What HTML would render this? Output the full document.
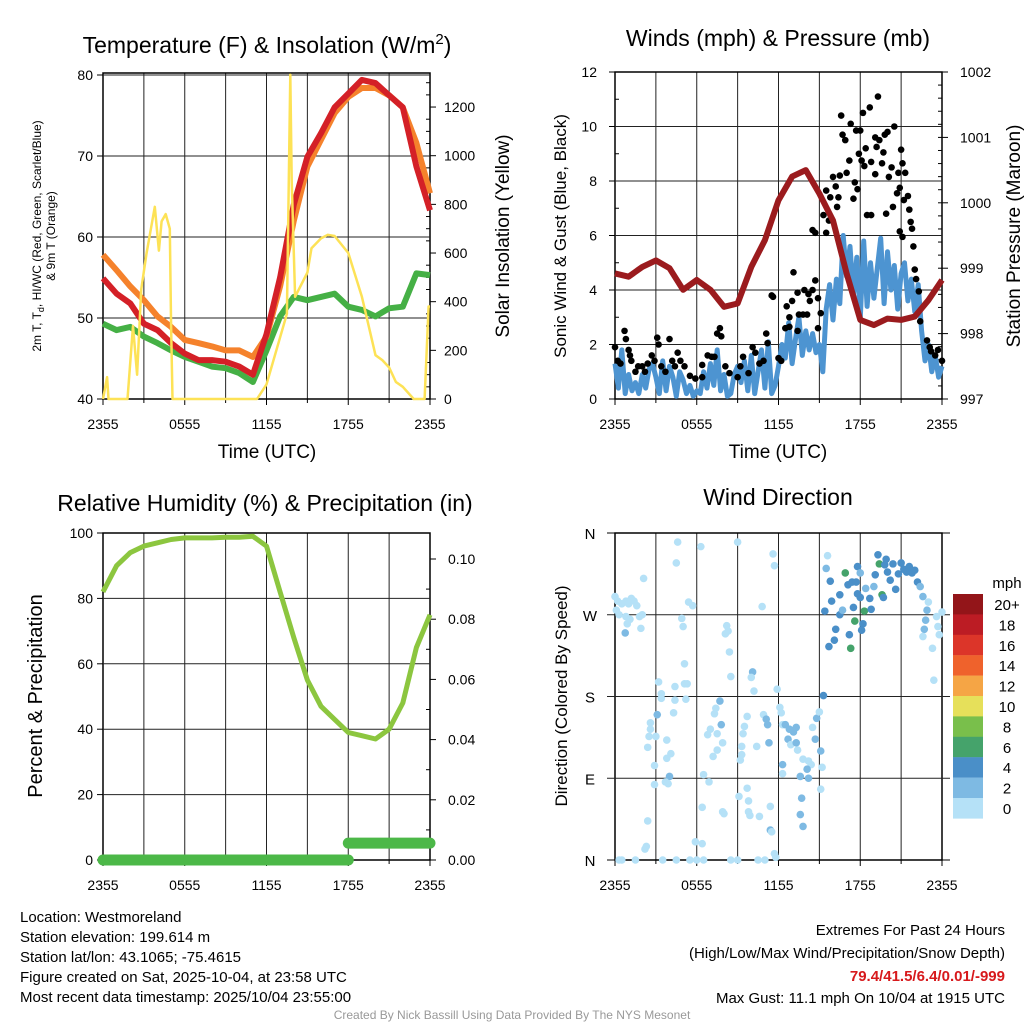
<!DOCTYPE html>
<html><head><meta charset="utf-8"><style>
body{margin:0;background:#fff;}
svg{display:block;font-family:"Liberation Sans",Arial,sans-serif;}
</style></head><body>
<svg id="c" width="1024" height="1024" viewBox="0 0 1024 1024" xmlns="http://www.w3.org/2000/svg">
<g id="txt">
<text x="267" y="53" font-size="23" text-anchor="middle">Temperature (F) &amp; Insolation (W/m<tspan dy="-9" font-size="15">2</tspan><tspan dy="9">)</tspan></text>
<text x="778" y="46" font-size="23" text-anchor="middle">Winds (mph) &amp; Pressure (mb)</text>
<text x="265" y="511" font-size="23" text-anchor="middle">Relative Humidity (%) &amp; Precipitation (in)</text>
<text x="778" y="505" font-size="23" text-anchor="middle">Wind Direction</text>
<text x="267" y="458" font-size="19" text-anchor="middle">Time (UTC)</text>
<text x="778" y="458" font-size="19" text-anchor="middle">Time (UTC)</text>
<text transform="translate(41,236) rotate(-90)" font-size="12" text-anchor="middle">2m T, T<tspan dy="3" font-size="9">d</tspan><tspan dy="-3">, HI/WC (Red, Green, Scarlet/Blue)</tspan></text>
<text transform="translate(55,236) rotate(-90)" font-size="12" text-anchor="middle">&amp; 9m T (Orange)</text>
<text transform="translate(509,236) rotate(-90)" font-size="19" text-anchor="middle">Solar Insolation (Yellow)</text>
<text transform="translate(566,236) rotate(-90)" font-size="17" text-anchor="middle">Sonic Wind &amp; Gust (Blue, Black)</text>
<text transform="translate(1020,236) rotate(-90)" font-size="19" text-anchor="middle">Station Pressure (Maroon)</text>
<text transform="translate(42,696) rotate(-90)" font-size="20" text-anchor="middle">Percent &amp; Precipitation</text>
<text transform="translate(567,696) rotate(-90)" font-size="17" text-anchor="middle">Direction (Colored By Speed)</text>
<g font-size="15">
<text x="20" y="922">Location: Westmoreland</text>
<text x="20" y="942">Station elevation: 199.614 m</text>
<text x="20" y="962">Station lat/lon: 43.1065; -75.4615</text>
<text x="20" y="982">Figure created on Sat, 2025-10-04, at 23:58 UTC</text>
<text x="20" y="1002">Most recent data timestamp: 2025/10/04 23:55:00</text>
</g>
<g font-size="15" text-anchor="end">
<text x="1005" y="935">Extremes For Past 24 Hours</text>
<text x="1005" y="958">(High/Low/Max Wind/Precipitation/Snow Depth)</text>
<text x="1005" y="981" fill="#d7191c" font-weight="bold">79.4/41.5/6.4/0.01/-999</text>
<text x="1005" y="1003">Max Gust: 11.1 mph On 10/04 at 1915 UTC</text>
</g>
<text x="512" y="1019" font-size="12" fill="#999" text-anchor="middle">Created By Nick Bassill Using Data Provided By The NYS Mesonet</text>
</g>
</svg>
<script>
// ---------- data ----------
const hours=[0,1,2,3,4,5,6,7,8,9,10,11,12,13,14,15,16,17,18,19,20,21,22,23,24];
const tempRed=[54.9,53,51.8,49.3,48.5,46.9,45.6,44.8,44.8,44.6,44,43,48,55,64,69.9,72.8,76,77.7,79.4,79,77.5,76,68.7,63.3];
const tempOrange=[57.8,55.9,53.9,52.2,50.2,48.9,47.3,46.9,46.5,46,46,45.2,47.7,53.9,62,68.7,72,75.3,77.3,78.4,78.4,77.5,76,71.6,65.4];
const tempGreen=[49.3,48.5,48.9,47.7,46.9,46,45.2,44.6,44,43.8,43.2,42.1,46,50.2,52.6,52.2,52.6,53,51.4,51,50.2,51.2,51.4,55.5,55.3];
const solarT=[0,0.3,0.4,0.55,1.8,2.2,2.5,2.8,3.2,3.8,4.1,4.3,4.6,4.9,5.0,5.1,11.3,12,13.5,13.75,13.85,13.95,14.1,15,15.3,16,16.5,17,18,19,20,20.5,21,21.5,22,22.8,23.6,23.9,24];
const solarV=[0,90,0,0,0,300,100,450,600,790,610,730,760,700,300,0,0,60,350,1333,900,700,420,520,620,660,675,670,600,420,180,160,130,70,50,0,0,380,380];
const presT=hours;
const presV=[998.92,998.87,999.02,999.12,999.0,998.67,998.82,998.67,998.41,998.46,999.02,999.43,1000.04,1000.40,1000.50,1000.14,999.73,998.92,998.21,998.13,998.23,998.21,998.26,998.51,998.82];
const windV=[1.3,0.4,1.8,0.2,0.9,0.3,0.6,0.2,0.9,0.4,1.1,1.3,0.8,
0.2,1.4,0.3,1.2,0.8,0.1,1.0,0.7,0.2,0.5,0.1,0.3,
0.2,1.0,0.4,1.3,0.5,1.8,0.3,0.9,0.1,0.2,0.9,1.2,
0.6,1.4,0.3,1.6,0.2,1.0,1.8,0.4,2.1,0.2,0.5,1.2,
2.0,1.5,2.8,1.3,2.2,3.0,1.6,2.5,1.8,2.4,1.7,2.0,
1.0,3.3,4.2,2.9,4.4,3.5,6.0,4.5,5.6,3.8,5.2,3.0,
5.8,3.4,5.0,3.7,4.8,5.9,3.5,5.4,4.0,4.9,3.3,4.6,
5.0,3.6,4.4,3.2,4.2,2.5,1.4,2.0,1.0,1.6,0.8,1.2];
const gustT=[0,0.2,0.4,0.7,0.8,1.0,1.1,1.2,1.5,1.7,2.0,2.2,2.4,2.7,2.9,3.1,3.2,3.4,3.7,4.0,4.2,4.4,4.6,4.8,5.1,5.5,5.9,6.4,6.4,6.8,7.1,7.3,7.5,7.7,7.8,8.1,8.4,9.0,9.2,9.4,9.8,10.1,10.3,10.6,10.9,11.1,11.2,11.5,11.6,12.0,12.2,12.5,12.6,12.8,12.8,13.0,13.1,13.4,13.4,13.5,13.8,13.9,14.1,14.2,14.3,14.5,14.5,14.7,14.7,14.9,14.9,15.1,15.3,15.5,15.5,15.7,15.8,16.0,16.2,16.3,16.4,16.5,16.6,16.7,16.9,17.0,17.2,17.3,17.5,17.6,17.7,17.8,17.9,18.0,18.1,18.2,18.3,18.4,18.5,18.7,18.8,18.8,19.1,19.1,19.2,19.3,19.4,19.6,19.7,19.8,19.9,20.0,20.1,20.3,20.4,20.5,20.7,20.8,20.9,20.9,21.0,21.1,21.1,21.2,21.3,21.5,21.6,21.7,21.8,21.9,22.0,22.1,22.3,22.4,22.9,23.1,23.2,23.5,23.7,24.0];
const gustV=[1.9,1.4,1.3,2.5,2.2,1.8,1.6,1.4,1.0,1.2,1.2,1.0,1.3,1.6,1.4,2.25,2.0,1.2,1.0,2.2,1.4,1.2,1.7,1.4,1.2,0.85,0.75,1.25,0.8,1.6,1.55,1.55,2.4,2.6,2.3,1.2,0.95,0.8,1.2,1.55,0.95,1.9,1.7,1.3,1.4,2.4,2.05,3.8,3.75,1.5,1.4,2.6,3.4,3.0,2.65,3.6,4.65,3.9,2.5,3.1,3.1,4.0,3.1,3.85,3.6,4.0,6.2,6.1,4.35,3.7,2.6,3.15,6.75,6.1,7.65,6.55,7.4,8.15,7.8,7.05,7.4,8.2,10.4,9.7,9.5,8.3,8.75,10.1,7.35,7.95,9.85,7.7,9.0,9.85,8.75,10.5,8.55,9.2,6.75,10.7,8.7,6.75,8.25,9.6,9.25,11.1,9.5,8.65,9.05,9.7,6.8,9.8,8.15,8.5,7.05,10.0,7.55,8.3,6.15,7.75,9.15,8.65,5.95,7.3,8.3,7.45,6.95,6.5,6.25,5.6,4.75,4.4,3.95,2.85,2.15,1.9,1.75,1.6,1.8,1.4];
const rhV=[82,90,94,96,97,98,98.5,98.5,98.5,98.7,98.7,99,96,82,68,55,47,43,39,38,37,40,48,65,75];
const precipT=[0,18,18,24];
const precipV=[0,0,0.0056,0.0056];
const dirT=[0.0,0.2,0.3,0.5,0.8,1.0,1.2,1.4,1.6,1.8,2.0,0.9,0.75,1.1,2.1,1.9,0.8,0.1,
0.3,0.5,1.5,3.5,4.5,5.5,6.0,6.5,8.5,9.0,10.5,11.0,11.8,
4.6,4.5,6.3,9.0,11.6,11.7,10.8,5.4,5.7,4.9,5.0,5.1,5.1,5.3,5.2,4.4,4.4,3.2,3.4,3.4,3.1,4.3,2.6,2.6,3.0,2.5,2.4,3.8,4.1,3.8,2.9,4.0,3.7,2.9,3.9,2.4,2.3,2.2,5.9,6.4,6.5,6.9,6.4,7.9,8.0,8.2,8.3,8.1,8.4,8.5,7.7,7.4,7.3,7.8,7.0,7.5,7.2,7.9,6.8,7.5,9.2,9.3,9.3,9.4,9.5,9.7,10.1,10.0,10.2,10.4,9.7,9.1,9.8,9.8,9.9,10.6,11.4,11.4,11.5,11.7,10.9,11.1,11.2,11.3,11.9,12.1,12.2,12.3,12.5,12.8,13.1,13.3,12.7,12.9,13.3,13.4,13.8,14.2,14.4,14.1,13.6,14.2,13.7,13.6,13.8,12.3,12.3,14.5,14.7,14.8,15.0,15.3,15.1,15.2,15.1,
15.6,15.5,15.8,15.9,15.4,16.5,16.5,16.2,16.1,15.7,16.7,16.9,17.1,17.4,17.7,17.5,17.2,17.3,17.6,17.8,18.0,17.8,18.0,18.2,18.3,18.1,18.4,18.7,18.8,19.0,19.1,19.3,19.4,19.8,19.6,19.7,19.9,20.0,20.2,20.4,20.6,20.8,21.0,21.2,21.4,21.6,21.8,22.0,22.2,22.4,22.6,23.0,22.9,22.8,22.7,22.6,23.3,23.4,23.6,23.7,23.8,24.0];
const dirV=[290,285,270,282,285,282,288,285,280,268,270,260,250,265,310,255,268,275,
0,0,0,0,0,0,0,0,0,0,0,0,3,
350,327,345,350,337,324,279,284,280,266,257,216,194,194,177,191,176,196,183,178,160,162,151,144,136,136,124,132,117,112,104,92,86,83,84,43,15,12,20,18,94,86,58,53,51,258,252,249,229,202,175,167,161,149,144,139,114,129,138,121,110,116,125,139,147,158,207,201,186,125,79,70,65,53,49,48,59,33,31,7,160,155,149,129,188,168,162,149,149,144,141,146,133,127,129,121,111,109,105,100,92,90,68,50,37,105,95,146,133,156,163,181,120,102,78,
335,321,307,285,274,292,270,254,242,235,275,316,303,306,306,278,248,233,263,323,316,293,289,260,274,253,299,288,276,301,314,336,326,325,292,289,331,317,308,326,298,315,327,320,317,323,316,319,306,301,290,284,275,264,254,246,233,198,268,257,248,273];
const dirS=[1,1,1,1,1,1,1,1,1,1,1,1,3,1,1,1,1,1,
1,1,1,1,1,1,1,1,1,1,1,1,1,
1,1,1,1,1,1,1,1,1,1,1,1,1,1,1,1,1,1,1,1,3,1,1,1,1,1,1,1,1,1,1,3,1,1,1,1,1,1,1,1,1,1,1,1,1,1,1,1,1,1,3,1,1,3,1,1,1,1,1,1,1,1,1,1,1,1,3,1,1,1,1,1,1,1,1,1,1,3,1,1,1,3,3,3,1,1,1,1,3,3,3,3,3,1,3,1,1,1,1,3,3,3,3,3,3,3,1,1,3,3,1,4,3,1,1,1,
3,5,5,5,5,5,5,5,5,3,7,5,5,5,5,5,7,7,5,3,5,5,5,7,5,3,5,5,3,5,5,7,5,7,5,5,5,5,5,5,5,5,5,5,5,5,5,5,3,3,1,3,3,3,1,1,1,1,1,1,1,1];
const cbLabels=["20+","18","16","14","12","10","8","6","4","2","0"];
const cbColors=["#931519","#bc1c24","#dc3529","#ef622c","#f5a545","#e6e05a","#79bf4b","#45a36b","#4a8fc8","#7ebae3","#b5e1f7"];

// ---------- helpers ----------
const NS="http://www.w3.org/2000/svg";
const svg=document.getElementById('c');
function mk(tag,attrs,parent){const e=document.createElementNS(NS,tag);for(const k in attrs)e.setAttribute(k,attrs[k]);(parent||svg).appendChild(e);return e;}
function grp(name){const g=mk('g',{});return g;}
function txt(p,x,y,s,anchor,size){const t=mk('text',{x:x,y:y,'font-size':size||14,'text-anchor':anchor||'middle'},p);t.textContent=s;return t;}
function pathD(xs,ys,fx,fy){return xs.map((v,i)=>(i?'L':'M')+fx(v).toFixed(1)+','+fy(ys[i]).toFixed(1)).join('');}

function frame(name,L,R,T,B){
  const g=grp(name+'-axes');
  for(let h=3;h<24;h+=3){const x=L+(R-L)*h/24;const l=mk('line',{x1:x,x2:x,y1:T,y2:B,stroke:'#222','stroke-width':1},g);}
  const r=mk('rect',{x:L,y:T,width:R-L,height:B-T,fill:'none',stroke:'#000','stroke-width':1.5},g);
  
  const labs=['2355','0555','1155','1755','2355'];
  labs.forEach((s,i)=>{const x=L+(R-L)*i/4;mk('line',{x1:x,x2:x,y1:B,y2:B+6,stroke:'#000'},g);const t=txt(g,x,B+30,s,'middle',14);});
  for(let h=3;h<24;h+=6){const x=L+(R-L)*h/24;mk('line',{x1:x,x2:x,y1:B,y2:B+4,stroke:'#000'},g);}
  return g;
}
function hgrid(g,L,R,y){const l=mk('line',{x1:L,x2:R,y1:y,y2:y,stroke:'#222','stroke-width':1},g);}

// ---------- panel 1 ----------
{
const L=103,R=430,T=73,B=399;
const x=h=>L+h*(R-L)/24, yT=t=>399-(t-40)*8.1, yS=s=>399-s*0.2433;
const g=frame('temp',L,R,T,B);
hgrid(g,L,R,75);
[40,50,60,70,80].forEach(v=>{const y=yT(v);if(v>40&&v<80)hgrid(g,L,R,y);mk('line',{x1:L-6,x2:L,y1:y,y2:y,stroke:'#000'},g);const t=txt(g,L-10,y+5,String(v),'end',14);});
[0,200,400,600,800,1000,1200].forEach(v=>{const y=yS(v);mk('line',{x1:R,x2:R+6,y1:y,y2:y,stroke:'#000'},g);const t=txt(g,R+14,y+5,String(v),'start',14);});
for(let v=50;v<1340;v+=50){if(v%200)mk('line',{x1:R-4,x2:R,y1:yS(v),y2:yS(v),stroke:'#000'},g);}
const s=grp('temp-series');
let p;
p=mk('path',{d:pathD(hours,tempGreen,x,yT),fill:'none',stroke:'#45b045','stroke-width':6,'stroke-linejoin':'round'},s);
p=mk('path',{d:pathD(hours,tempOrange,x,yT),fill:'none',stroke:'#f5822c','stroke-width':6,'stroke-linejoin':'round'},s);
p=mk('path',{d:pathD(hours,tempRed,x,yT),fill:'none',stroke:'#d42027','stroke-width':6,'stroke-linejoin':'round'},s);
p=mk('path',{d:pathD(solarT,solarV,x,yS),fill:'none',stroke:'#fde256','stroke-width':2.5,'stroke-linejoin':'round'},s);
}
// ---------- panel 2 ----------
{
const L=615,R=942,T=72,B=399;
const x=h=>L+h*(R-L)/24, yW=w=>399-w*27.25, yP=p=>399-(p-997)*65.4;
const g=frame('wind',L,R,T,B);
[0,2,4,6,8,10,12].forEach(v=>{const y=yW(v);if(v>0&&v<12)hgrid(g,L,R,y);mk('line',{x1:L-6,x2:L,y1:y,y2:y,stroke:'#000'},g);const t=txt(g,L-18,y+5,String(v),'end',14);});
for(let v=1;v<12;v+=2)mk('line',{x1:L,x2:L+4,y1:yW(v),y2:yW(v),stroke:'#000'},g);
[997,998,999,1000,1001,1002].forEach(v=>{const y=yP(v);mk('line',{x1:R,x2:R+6,y1:y,y2:y,stroke:'#000'},g);const t=txt(g,R+18,y+5,String(v),'start',14);});
for(let v=997.2;v<1002;v+=0.2)mk('line',{x1:R-4,x2:R,y1:yP(v),y2:yP(v),stroke:'#000'},g);
const s=grp('wind-series');
const wt=windV.map((v,i)=>i/4);
let p=mk('path',{d:pathD(wt,windV,x,yW),fill:'none',stroke:'#4d94d1','stroke-width':5,'stroke-linejoin':'round'},s);
gustT.forEach((h,i)=>{const c=mk('circle',{cx:x(h),cy:yW(gustV[i]),r:3.3,fill:'#000'},s);});
p=mk('path',{d:pathD(presT,presV,x,yP),fill:'none',stroke:'#9b1b1e','stroke-width':6,'stroke-linejoin':'round'},s);
}
// ---------- panel 3 ----------
{
const L=103,R=430,T=533,B=860;
const x=h=>L+h*(R-L)/24, yR=r=>860-r*3.27, yPr=v=>860-v*3010;
const g=frame('rh',L,R,T,B);
[0,20,40,60,80,100].forEach(v=>{const y=yR(v);if(v>0&&v<100)hgrid(g,L,R,y);mk('line',{x1:L-6,x2:L,y1:y,y2:y,stroke:'#000'},g);const t=txt(g,L-10,y+5,String(v),'end',14);});
[0,0.02,0.04,0.06,0.08,0.10].forEach(v=>{const y=yPr(v);mk('line',{x1:R,x2:R+6,y1:y,y2:y,stroke:'#000'},g);const t=txt(g,R+18,y+5,v.toFixed(2),'start',14);});
for(let v=0.01;v<0.105;v+=0.02)mk('line',{x1:R-4,x2:R,y1:yPr(v),y2:yPr(v),stroke:'#000'},g);
const s=grp('rh-series');
let p=mk('path',{d:pathD(hours,rhV,x,yR),fill:'none',stroke:'#8cc63f','stroke-width':5,'stroke-linejoin':'round'},s);
p=mk('path',{d:pathD(precipT.slice(0,2),precipV.slice(0,2),x,yPr),fill:'none',stroke:'#4cb848','stroke-width':11,'stroke-linecap':'round'},s);
p=mk('path',{d:pathD(precipT.slice(2),precipV.slice(2),x,yPr),fill:'none',stroke:'#4cb848','stroke-width':11,'stroke-linecap':'round'},s);
}
// ---------- panel 4 ----------
{
const L=615,R=942,T=533,B=860;
const x=h=>L+h*(R-L)/24, yD=d=>860-d*327/360;
const g=frame('wdir',L,R,T,B);
[['N',0],['E',90],['S',180],['W',270],['N',360]].forEach(([s,v])=>{const y=yD(v);if(v>0&&v<360)hgrid(g,L-8,R+8,y);else mk('line',{x1:L-8,x2:R+8,y1:y,y2:y,stroke:'#000'},g);const t=txt(g,L-25,y+6,s,'middle',15);});
const s=grp('wdir-points');
const col=v=>cbColors[10-Math.min(10,Math.floor(v/2))];
dirT.forEach((h,i)=>{const c=mk('circle',{cx:x(h),cy:yD(dirV[i]),r:3.8,fill:col(dirS[i])},s);});
const lg=grp('speed-colorbar');
txt(lg,1007,588,'mph','middle',15);
cbColors.forEach((c,i)=>{const r=mk('rect',{x:953,y:594+i*20.4,width:30,height:20.6,fill:c},lg);const t=txt(lg,1007,594+i*20.4+16,cbLabels[i],'middle',15);});
}
</script>
</body></html>
